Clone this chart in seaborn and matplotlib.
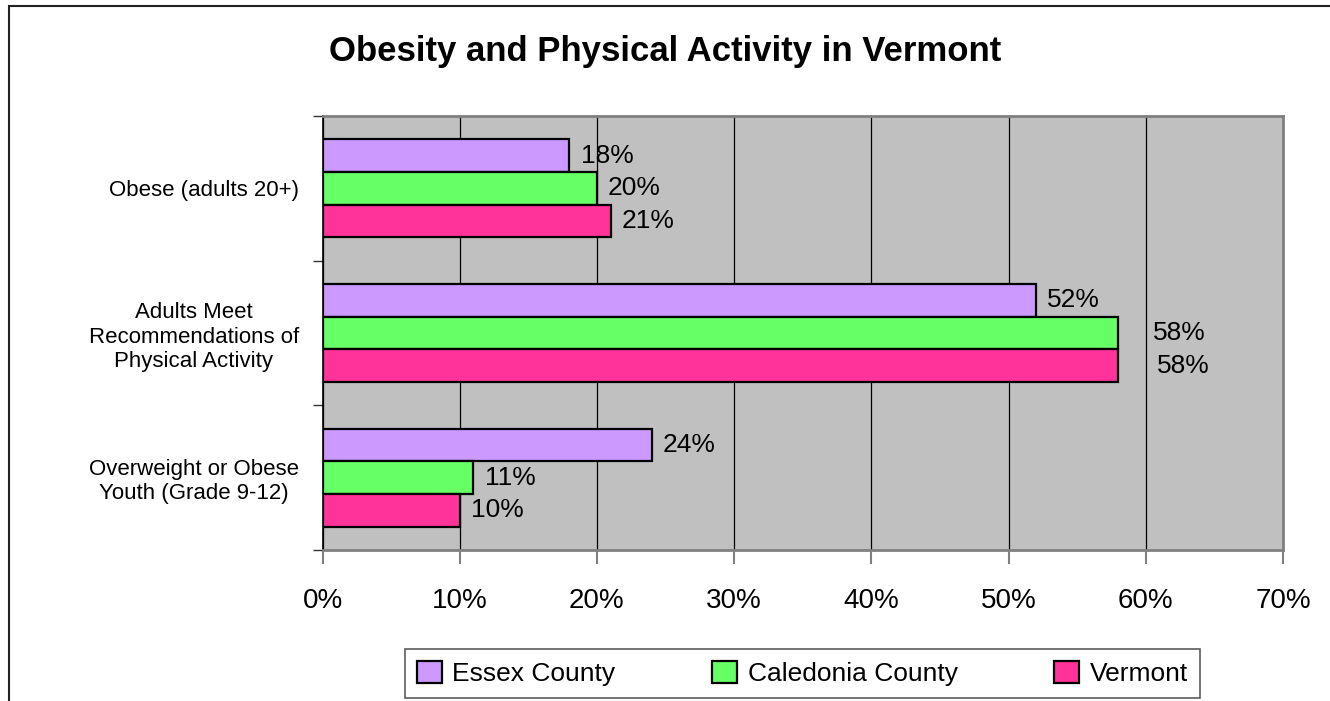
import matplotlib
matplotlib.use("Agg")
import matplotlib.pyplot as plt
from matplotlib.patches import Rectangle
import pandas as pd
import seaborn as sns

# chart data (percent)
categories = [
    "Obese (adults 20+)",
    "Adults Meet\nRecommendations of\nPhysical Activity",
    "Overweight or Obese\nYouth (Grade 9-12)",
]
series = ["Essex County", "Caledonia County", "Vermont"]
essex = [18, 52, 24]
caledonia = [20, 58, 11]
vermont = [21, 58, 10]
x_ticks = [0, 10, 20, 30, 40, 50, 60, 70]

colors = ["#CC99FF", "#66FF66", "#FF3399"]

# label offsets in points, keyed (category, series); Excel pushed the two 58% labels right
label_pad = {(1, 1): 25, (1, 2): 28}

df = pd.DataFrame({
    "Category": categories * 3,
    "Region": [s for s in series for _ in categories],
    "Value": essex + caledonia + vermont,
})

sns.set_style("ticks")
plt.rcParams["font.family"] = ["Liberation Sans", "DejaVu Sans"]
plt.rcParams["text.color"] = "black"
plt.rcParams["xtick.labelcolor"] = "black"
plt.rcParams["ytick.labelcolor"] = "black"

fig = plt.figure(figsize=(13.3, 7.01), dpi=100)
ax = fig.add_axes([322.5 / 1330, 1 - 550 / 701, (1283 - 322.5) / 1330, (550 - 116) / 701])
ax.set_facecolor("#C0C0C0")

sns.barplot(
    data=df, x="Value", y="Category", hue="Region", order=categories,
    hue_order=series, palette=colors, orient="h", width=0.676,
    edgecolor="black", linewidth=1.6, saturation=1, ax=ax,
)

ax.set_xlim(0, 70)
ax.set_ylim(2.5, -0.5)
ax.set_xticks(x_ticks)
ax.set_xticklabels([f"{t}%" for t in x_ticks], fontsize=20, color="black")
ax.tick_params(axis="x", length=10, width=1.5, color="#808080", pad=17)
ax.grid(axis="x", color="black", linewidth=0.9)
ax.set_axisbelow(True)

ax.set_yticks([0, 1, 2])
ax.set_yticks([-0.5, 0.5, 1.5, 2.5], minor=True)
ax.tick_params(axis="y", which="major", length=0, pad=17, labelsize=16)
ax.tick_params(axis="y", which="minor", length=7, width=1, color="#333333")
for lbl in ax.get_yticklabels():
    lbl.set_multialignment("center")
    lbl.set_color("black")

ax.set_xlabel("")
ax.set_ylabel("")

for side in ["top", "right", "bottom"]:
    ax.spines[side].set_color("#808080")
    ax.spines[side].set_linewidth(2)
ax.spines["left"].set_color("black")
ax.spines["left"].set_linewidth(1.2)

# data labels
for j, cont in enumerate(ax.containers):
    for i, bar in enumerate(cont):
        w = bar.get_width()
        yc = bar.get_y() + bar.get_height() / 2
        ax.annotate(f"{w:.0f}%", (w, yc), xytext=(label_pad.get((i, j), 8), 0),
                    textcoords="offset points", va="center", ha="left",
                    fontsize=19, color="black")

# legend at the bottom
handles, labels = ax.get_legend_handles_labels()
ax.legend_.remove()
leg = fig.legend(
    handles, labels, ncol=3, loc="lower left", mode="expand",
    bbox_to_anchor=(405 / 1330, 3 / 701, 795 / 1330, 53 / 701),
    frameon=True, fancybox=False, fontsize=19, handlelength=0.95,
    handleheight=0.95, handletextpad=0.4, borderaxespad=0, borderpad=0.45,
)
leg.get_frame().set_edgecolor("#333333")
leg.get_frame().set_linewidth(1.2)
for h in leg.legend_handles:
    h.set_edgecolor("black")
    h.set_linewidth(1.6)

fig.text(0.5, 1 - 52 / 701, "Obesity and Physical Activity in Vermont",
         ha="center", va="center", fontsize=25, fontweight="bold", color="black")

# outer chart border (only top and left edges visible in the crop)
fig.patches.append(Rectangle((9 / 1330, -0.1), 1.2, 1.1 - 6 / 701,
                             transform=fig.transFigure, fill=False,
                             edgecolor="#222222", linewidth=1.5))

fig.savefig("out.png", dpi=100)
